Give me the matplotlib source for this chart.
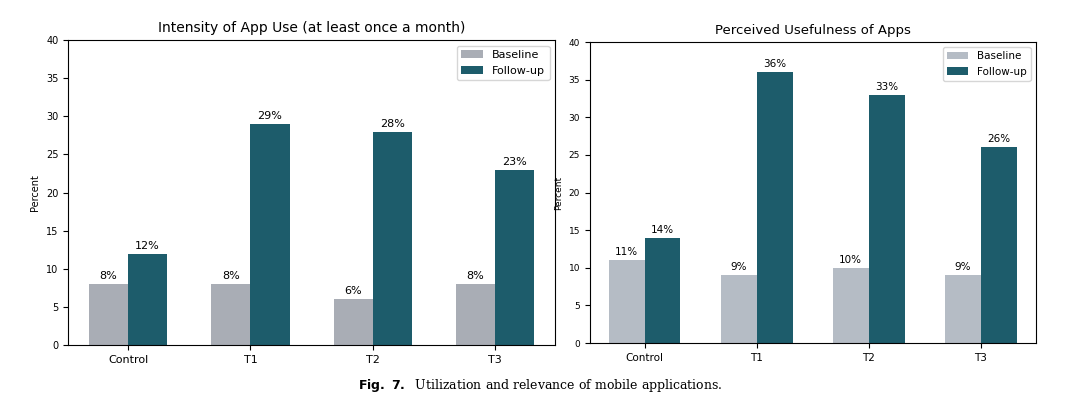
import matplotlib.pyplot as plt
import numpy as np

groups = ['Control', 'T1', 'T2', 'T3']
use_baseline = [8, 8, 6, 8]
use_followup = [12, 29, 28, 23]
useful_baseline = [11, 9, 10, 9]
useful_followup = [14, 36, 33, 26]

ind = np.arange(len(groups))
width = 0.32

fig = plt.figure(figsize=(10.8, 4.05), dpi=100)
ax1 = fig.add_axes([0.063, 0.148, 0.451, 0.753])
ax2 = fig.add_axes([0.546, 0.153, 0.413, 0.743])


def draw(ax, base, follow, title, base_color, fs):
    b1 = ax.bar(ind - width / 2, base, width, color=base_color, label='Baseline')
    b2 = ax.bar(ind + width / 2, follow, width, color='#1d5c6b', label='Follow-up')
    for bars in (b1, b2):
        for r in bars:
            ax.text(r.get_x() + r.get_width() / 2, r.get_height() + 0.4,
                    '%d%%' % r.get_height(), ha='center', va='bottom', fontsize=fs)
    ax.set_title(title, fontsize=fs + 2)
    ax.set_ylabel('Percent', fontsize=fs - 1)
    ax.set_xticks(ind)
    ax.set_xticklabels(groups, fontsize=fs)
    ax.set_yticks(np.arange(0, 41, 5))
    ax.tick_params(axis='y', labelsize=fs - 1)
    ax.set_ylim(0, 40)
    ax.set_xlim(-0.49, 3.49)
    ax.legend(loc='upper right', fontsize=fs)


draw(ax1, use_baseline, use_followup, 'Intensity of App Use (at least once a month)', '#a9adb5', 8)
draw(ax2, useful_baseline, useful_followup, 'Perceived Usefulness of Apps', '#b5bcc5', 7.5)

fig.text(0.5, 0.04, r'$\bf{Fig.\ 7.}$  Utilization and relevance of mobile applications.',
         ha='center', fontsize=9, family='DejaVu Serif')

plt.savefig('out.png', dpi=100)
